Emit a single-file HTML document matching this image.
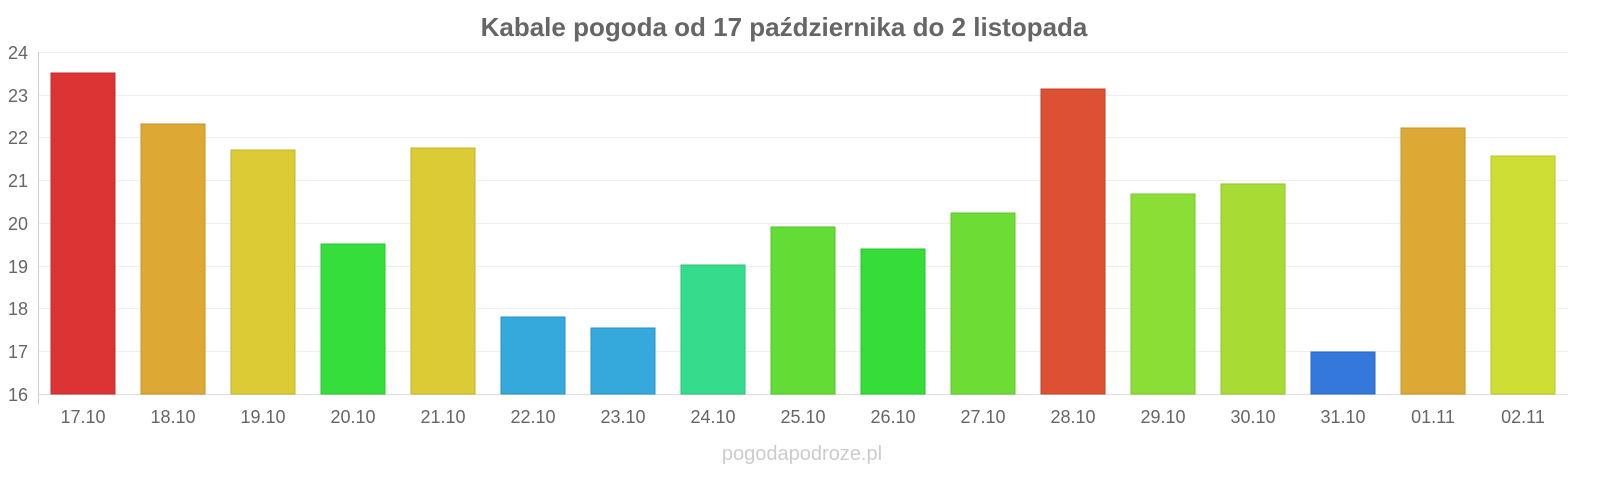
<!DOCTYPE html>
<html><head><meta charset="utf-8"><style>
html,body{margin:0;padding:0;background:#fff;}
svg{display:block;font-family:"Liberation Sans",sans-serif;}
</style></head><body>
<svg width="1600" height="480" viewBox="0 0 1600 480" xmlns="http://www.w3.org/2000/svg">
<rect width="1600" height="480" fill="#fff"/>
<text x="784" y="36" text-anchor="middle" font-size="26" font-weight="bold" fill="#666">Kabale pogoda od 17 października do 2 listopada</text>
<g stroke="#eeeeee" stroke-width="1">
<line x1="38" x2="1568" y1="52.5" y2="52.5"/>
<line x1="38" x2="1568" y1="95.5" y2="95.5"/>
<line x1="38" x2="1568" y1="137.5" y2="137.5"/>
<line x1="38" x2="1568" y1="180.5" y2="180.5"/>
<line x1="38" x2="1568" y1="223.5" y2="223.5"/>
<line x1="38" x2="1568" y1="266.5" y2="266.5"/>
<line x1="38" x2="1568" y1="308.5" y2="308.5"/>
<line x1="38" x2="1568" y1="351.5" y2="351.5"/>
</g>
<line x1="38.5" x2="38.5" y1="52" y2="404" stroke="#ccc"/>
<line x1="38" x2="1568" y1="394.5" y2="394.5" stroke="#ddd"/>
<g font-size="18" fill="#666" text-anchor="end">
<text x="28" y="59">24</text><text x="28" y="102">23</text><text x="28" y="144">22</text>
<text x="28" y="187">21</text><text x="28" y="230">20</text><text x="28" y="273">19</text>
<text x="28" y="315">18</text><text x="28" y="358">17</text><text x="28" y="401">16</text>
</g>
<g stroke-width="1">
<rect x="51" y="73" width="64" height="321" fill="#dc3434" stroke="#c02a2a"/>
<rect x="141" y="124" width="64" height="270" fill="#dea835" stroke="#c4922a"/>
<rect x="231" y="150" width="64" height="244" fill="#dccb34" stroke="#c2b22a"/>
<rect x="321" y="244" width="64" height="150" fill="#35de3a" stroke="#2ac430"/>
<rect x="411" y="148" width="64" height="246" fill="#dccb34" stroke="#c2b22a"/>
<rect x="501" y="317" width="64" height="77" fill="#35a8dc" stroke="#2a92c2"/>
<rect x="591" y="328" width="64" height="66" fill="#35a8dc" stroke="#2a92c2"/>
<rect x="681" y="265" width="64" height="129" fill="#35dc8c" stroke="#2ac278"/>
<rect x="771" y="227" width="64" height="167" fill="#63dc35" stroke="#52c22a"/>
<rect x="861" y="249" width="64" height="145" fill="#35dc3a" stroke="#2ac230"/>
<rect x="951" y="213" width="64" height="181" fill="#6ddd35" stroke="#5cc42a"/>
<rect x="1041" y="89" width="64" height="305" fill="#de5034" stroke="#c2422a"/>
<rect x="1131" y="194" width="64" height="200" fill="#8ade35" stroke="#78c42a"/>
<rect x="1221" y="184" width="64" height="210" fill="#a8dc35" stroke="#92c22a"/>
<rect x="1311" y="352" width="64" height="42" fill="#3478dc" stroke="#2a66c2"/>
<rect x="1401" y="128" width="64" height="266" fill="#dea835" stroke="#c4922a"/>
<rect x="1491" y="156" width="64" height="238" fill="#cede35" stroke="#b6c42a"/>
</g>
<g font-size="18" fill="#666" text-anchor="middle">
<text x="83" y="423">17.10</text><text x="173" y="423">18.10</text><text x="263" y="423">19.10</text>
<text x="353" y="423">20.10</text><text x="443" y="423">21.10</text><text x="533" y="423">22.10</text>
<text x="623" y="423">23.10</text><text x="713" y="423">24.10</text><text x="803" y="423">25.10</text>
<text x="893" y="423">26.10</text><text x="983" y="423">27.10</text><text x="1073" y="423">28.10</text>
<text x="1163" y="423">29.10</text><text x="1253" y="423">30.10</text><text x="1343" y="423">31.10</text>
<text x="1433" y="423">01.11</text><text x="1523" y="423">02.11</text>
</g>
<text x="802" y="460" text-anchor="middle" font-size="20" fill="#ccc">pogodapodroze.pl</text>
</svg>
</body></html>
